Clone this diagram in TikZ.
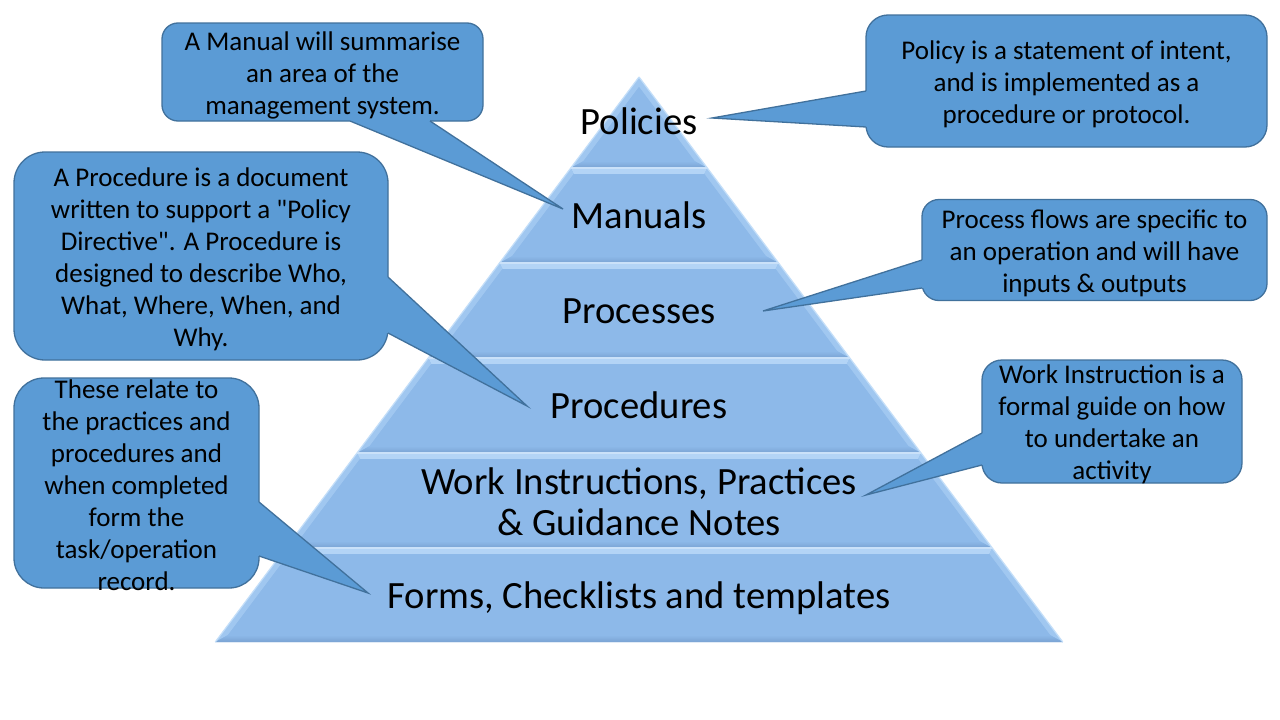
\documentclass[tikz,border=0pt]{standalone}
\usepackage{fontspec}
\setmainfont{Carlito}[Ligatures=TeXOff]
\usetikzlibrary{calc}
\definecolor{cfill}{HTML}{5B9BD5}
\definecolor{cline}{HTML}{41719C}
\definecolor{pmain}{HTML}{8DB9E9}
\definecolor{ptop}{HTML}{B3D4F6}
\definecolor{pside}{HTML}{A0C7F0}
\definecolor{pbot}{HTML}{7AA3D3}
\definecolor{pedge}{HTML}{C4DFF9}

\newcommand\pyrband[2]{%
  \pgfmathsetmacro\tY{#1}%
  \pgfmathsetmacro\bY{#2}%
  \pgfmathsetmacro\hwT{0.75*(\tY-77)}%
  \pgfmathsetmacro\hwB{0.75*(\bY-77)}%
  \pgfmathsetmacro\tiY{max(\tY+6,87)}%
  \pgfmathsetmacro\biY{\bY-7}%
  \pgfmathsetmacro\hwTi{max(0,0.75*(\tiY-77)-7.5)}%
  \pgfmathsetmacro\hwBi{0.75*(\biY-77)-7.5}%
  \coordinate (OTL) at ({639-\hwT},\tY);
  \coordinate (OTR) at ({639+\hwT},\tY);
  \coordinate (OBL) at ({639-\hwB},\bY);
  \coordinate (OBR) at ({639+\hwB},\bY);
  \coordinate (ITL) at ({639-\hwTi},\tiY);
  \coordinate (ITR) at ({639+\hwTi},\tiY);
  \coordinate (IBL) at ({639-\hwBi},\biY);
  \coordinate (IBR) at ({639+\hwBi},\biY);
  \fill[pmain] (OTL) -- (OTR) -- (OBR) -- (OBL) -- cycle;
  \fill[ptop] (OTL) -- (OTR) -- (ITR) -- (ITL) -- cycle;
  \fill[pside] (OTL) -- (ITL) -- (IBL) -- (OBL) -- cycle;
  \fill[pside] (OTR) -- (ITR) -- (IBR) -- (OBR) -- cycle;
  \shade[top color=pmain, bottom color=pbot] (OBL) -- (OBR) -- (IBR) -- (IBL) -- cycle;
  \fill[pmain] (ITL) -- (ITR) -- (IBR) -- (IBL) -- cycle;
  \draw[pedge, line width=1.2] (OTL) -- (OBL) (OTR) -- (OBR);
  \draw[ptop!70!white, line width=1.2] (OTL) -- (OTR);
}

\tikzset{
  cbox/.style={draw=cline, fill=cfill, line width=1.3, inner sep=0, minimum width=#1},
  cbox/.default=100,
  ctext/.style={align=center, inner sep=0, font=\fontsize{27}{32}\selectfont, text=black},
  plabel/.style={inner sep=0, font=\fontsize{38.6}{41}\selectfont, text=black, anchor=base},
  ptrfill/.style={fill=cfill},
  ptrline/.style={draw=cline, line width=1.3, line join=miter}
}

\begin{document}
\begin{tikzpicture}[x=1pt,y=-1pt]
\useasboundingbox (0,0) rectangle (1280,720);
\fill[white] (0,0) rectangle (1280,720);

% pyramid
\pyrband{77}{168}
\pyrband{168}{263}
\pyrband{263}{358}
\pyrband{358}{453}
\pyrband{453}{548}
\pyrband{548}{642}

% callout: Manual
\node[cbox=321, minimum height=98, rounded corners=16] (cman) at (322.5,72) {};
\coordinate (tipman) at (563,209);
\coordinate (aman1) at (350,121);
\coordinate (aman2) at (430,121);
\fill[ptrfill] (aman1) -- (tipman) -- (aman2) -- (430,117) -- (350,117) -- cycle;
\draw[ptrline] (aman1) -- (tipman) -- (aman2);
\node[ctext] (xman) at ($(cman.center)+(0,3)$) {A Manual will summarise\\an area of the\\management system.};

% callout: Policy
\node[cbox=401, minimum height=132, rounded corners=22] (cpol) at (1066.5,81) {};
\coordinate (tippol) at (712,118);
\coordinate (apol1) at (866,91);
\coordinate (apol2) at (866,127);
\fill[ptrfill] (apol1) -- (tippol) -- (apol2) -- (870,127) -- (870,91) -- cycle;
\draw[ptrline] (apol1) -- (tippol) -- (apol2);
\node[ctext] (xpol) at ($(cpol.center)+(0,3)$) {Policy is a statement of intent,\\and is implemented as a\\procedure or protocol.};

% callout: Procedure
\node[cbox=374, minimum height=208, rounded corners=31] (cproc) at (201,256) {};
\coordinate (tipproc) at (527,406);
\coordinate (aproc1) at (388,277);
\coordinate (aproc2) at (388,333);
\fill[ptrfill] (aproc1) -- (tipproc) -- (aproc2) -- (384,333) -- (384,277) -- cycle;
\draw[ptrline] (aproc1) -- (tipproc) -- (aproc2);
\node[ctext] (xproc) at ($(cproc.center)+(0,3)$) {A Procedure is a document\\written to support a "Policy\\Directive". A Procedure is\\designed to describe Who,\\What, Where, When, and\\Why.};

% callout: Forms
\node[cbox=245, minimum height=210, rounded corners=30] (cform) at (136.5,483) {};
\coordinate (tipform) at (368,593);
\coordinate (aform1) at (259,502);
\coordinate (aform2) at (259,556);
\fill[ptrfill] (aform1) -- (tipform) -- (aform2) -- (255,556) -- (255,502) -- cycle;
\draw[ptrline] (aform1) -- (tipform) -- (aform2);
\node[ctext] (xform) at ($(cform.center)+(0,2)$) {These relate to\\the practices and\\procedures and\\when completed\\form the\\task/operation\\record.};

% callout: Process
\node[cbox=345, minimum height=101, rounded corners=17] (cprs) at (1094.5,250) {};
\coordinate (tipprs) at (763,311);
\coordinate (aprs1) at (922,260);
\coordinate (aprs2) at (922,288);
\fill[ptrfill] (aprs1) -- (tipprs) -- (aprs2) -- (926,288) -- (926,260) -- cycle;
\draw[ptrline] (aprs1) -- (tipprs) -- (aprs2);
\node[ctext] (xprs) at ($(cprs.center)+(0,3)$) {Process flows are specific to\\an operation and will have\\inputs \& outputs};

% callout: Work Instruction
\node[cbox=260, minimum height=123, rounded corners=20] (cwork) at (1112,421.5) {};
\coordinate (tipwork) at (866,495);
\coordinate (awork1) at (982,433);
\coordinate (awork2) at (982,465);
\fill[ptrfill] (awork1) -- (tipwork) -- (awork2) -- (986,465) -- (986,433) -- cycle;
\draw[ptrline] (awork1) -- (tipwork) -- (awork2);
\node[ctext] (xwork) at ($(cwork.center)+(0,3)$) {Work Instruction is a\\formal guide on how\\to undertake an\\activity};

% pyramid labels
\node[plabel] (lpol) at (639,134) {Policies};
\node[plabel] (lman) at (639,228) {Manuals};
\node[plabel] (lprs) at (639,323) {Processes};
\node[plabel] (lproc) at (639,418) {Procedures};
\node[plabel] (lwi1) at (639,494) {Work Instructions, Practices};
\node[plabel] (lwi2) at (639,535) {\& Guidance Notes};
\node[plabel] (lform) at (639,608) {Forms, Checklists and templates};
\end{tikzpicture}
\end{document}
